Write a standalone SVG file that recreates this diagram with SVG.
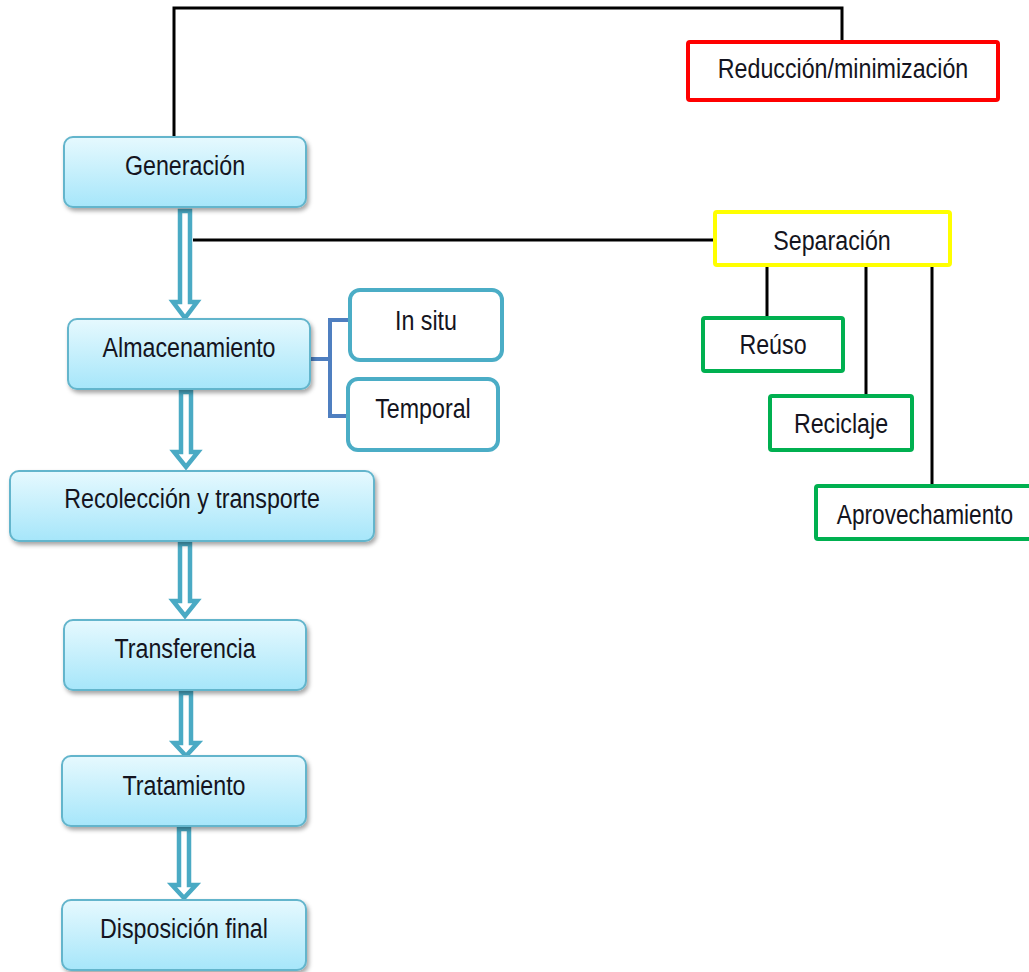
<svg xmlns="http://www.w3.org/2000/svg" width="1029" height="972" viewBox="0 0 1029 972">
<style>
.t{font-family:"Liberation Sans",Arial,sans-serif;font-size:28px;fill:#141420;text-anchor:middle}
.blue{fill:url(#g);stroke:#63b5cc;stroke-width:2;filter:url(#sh)}
.sub{fill:#fff;stroke:#4badc6;stroke-width:4}
.red{fill:#fff;stroke:#ff0000;stroke-width:4}
.yel{fill:#fff;stroke:#ffff00;stroke-width:4}
.grn{fill:#fff;stroke:#00b050;stroke-width:4}
.ln{fill:none;stroke:#000;stroke-width:3}
.arr{fill:#fff;stroke:#4aaac4;stroke-width:4.5;stroke-linejoin:miter}
.br{fill:none;stroke:#4f7fc0;stroke-width:4}
</style>
<defs>
<linearGradient id="g" x1="0" y1="0" x2="0" y2="1">
<stop offset="0" stop-color="#e6f9fe"/>
<stop offset="1" stop-color="#a6e6fa"/>
</linearGradient>
<filter id="sh" x="-10%" y="-20%" width="130%" height="150%">
<feDropShadow dx="2" dy="3" stdDeviation="2" flood-color="#000" flood-opacity="0.35"/>
</filter>
</defs>
<rect width="1029" height="972" fill="#fff"/>
<g id="connectors">
<path class="ln" d="M174,137 V8 H842 V42"/>
<path class="ln" d="M193,240 H715"/>
<path class="ln" d="M767,265 V318 M866,265 V396 M932,265 V487"/>
<path class="br" d="M310,359 H330 M330,320 V416 M328,320 H352 M328,416 H350"/>
<polygon class="arr" points="180,211 190,211 190,302 197,302 185,318 173,302 180,302"/>
<polygon class="arr" points="181,392 191,392 191,452 198,452 186,467 174,452 181,452"/>
<polygon class="arr" points="180,544 190,544 190,601 197,601 185,616 173,601 180,601"/>
<polygon class="arr" points="181,693 191,693 191,743 198,743 186,756 174,743 181,743"/>
<polygon class="arr" points="179,829 189,829 189,885 196,885 184,898 172,885 179,885"/>
</g>
<g id="generacion"><rect class="blue" x="64" y="137" width="242" height="70" rx="9"/><text class="t" transform="translate(185,175) scale(0.83,1)">Generación</text></g>
<g id="almacenamiento"><rect class="blue" x="68" y="319" width="242" height="70" rx="9"/><text class="t" transform="translate(189,357) scale(0.83,1)">Almacenamiento</text></g>
<g id="insitu"><rect class="sub" x="350" y="290" width="152" height="70" rx="10"/><text class="t" transform="translate(426,330) scale(0.83,1)">In situ</text></g>
<g id="temporal"><rect class="sub" x="348" y="379" width="150" height="71" rx="10"/><text class="t" transform="translate(423,418) scale(0.83,1)">Temporal</text></g>
<g id="recoleccion"><rect class="blue" x="10" y="471" width="364" height="70" rx="9"/><text class="t" transform="translate(192,508) scale(0.83,1)">Recolección y transporte</text></g>
<g id="transferencia"><rect class="blue" x="64" y="620" width="242" height="70" rx="9"/><text class="t" transform="translate(185,658) scale(0.83,1)">Transferencia</text></g>
<g id="tratamiento"><rect class="blue" x="62" y="756" width="244" height="70" rx="9"/><text class="t" transform="translate(184,795) scale(0.83,1)">Tratamiento</text></g>
<g id="disposicion"><rect class="blue" x="62" y="900" width="244" height="70" rx="9"/><text class="t" transform="translate(184,938) scale(0.83,1)">Disposición final</text></g>
<g id="reduccion"><rect class="red" x="688" y="42" width="310" height="58" rx="2"/><text class="t" transform="translate(843,78) scale(0.83,1)">Reducción/minimización</text></g>
<g id="separacion"><rect class="yel" x="715" y="212" width="235" height="53" rx="2"/><text class="t" transform="translate(832,250) scale(0.83,1)">Separación</text></g>
<g id="reuso"><rect class="grn" x="703" y="318" width="140" height="53" rx="2"/><text class="t" transform="translate(773,354) scale(0.83,1)">Reúso</text></g>
<g id="reciclaje"><rect class="grn" x="770" y="396" width="142" height="54" rx="2"/><text class="t" transform="translate(841,433) scale(0.83,1)">Reciclaje</text></g>
<g id="aprovechamiento"><rect class="grn" x="816" y="486" width="222" height="53" rx="2"/><text class="t" transform="translate(925,524) scale(0.81,1)">Aprovechamiento</text></g>
</svg>
